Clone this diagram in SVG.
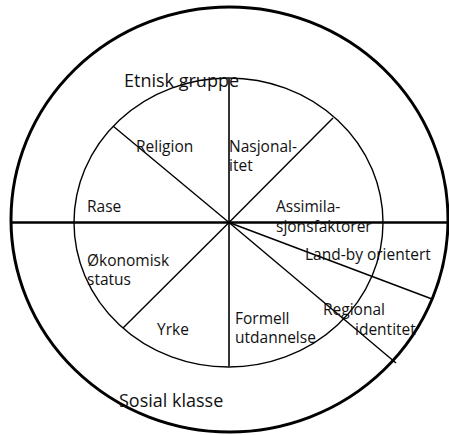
<svg xmlns="http://www.w3.org/2000/svg" width="449" height="435" viewBox="0 0 449 435">
<style>
text{font-family:"Open Sans","Noto Sans","Liberation Sans",sans-serif;fill:#111;}
.lbl{font-size:15.5px;}
.big{font-size:18px;}
.outer{fill:none;stroke:#000;stroke-width:3;}
.inner{fill:none;stroke:#000;stroke-width:1.4;}
.axis{stroke:#000;stroke-width:2.6;}
.vert{stroke:#333;stroke-width:2;}
.diag{stroke:#000;stroke-width:1.4;}
</style>
<rect width="449" height="435" fill="#fff"/>
<g id="outer-circle"><ellipse class="outer" cx="229.5" cy="219.5" rx="218.5" ry="212.5"/></g>
<g id="inner-circle"><ellipse class="inner" cx="228.5" cy="222.5" rx="154.5" ry="144.5"/></g>
<g id="connectors">
<line class="axis" x1="10" y1="222.5" x2="449" y2="222.5"/>
<line class="vert" x1="229" y1="78" x2="229" y2="222.5"/>
<line class="vert" x1="229" y1="222.5" x2="229" y2="367"/>
<line class="diag" x1="229" y1="222.5" x2="113" y2="126"/>
<line class="diag" x1="229" y1="222.5" x2="333" y2="118"/>
<line class="diag" x1="229" y1="222.5" x2="123" y2="328"/>
<line class="diag" x1="229" y1="222.5" x2="396" y2="363"/>
<line class="diag" x1="229" y1="222.5" x2="432" y2="299"/>
</g>
<g id="etnisk-gruppe"><text class="big" x="124" y="87">Etnisk gruppe</text></g>
<g id="sosial-klasse"><text class="big" x="119" y="407">Sosial klasse</text></g>
<g id="religion"><text class="lbl" x="136" y="152">Religion</text></g>
<g id="nasjonalitet"><text class="lbl" x="229" y="152">Nasjonal-</text><text class="lbl" x="229" y="171">itet</text></g>
<g id="rase"><text class="lbl" x="87" y="212">Rase</text></g>
<g id="assimilasjonsfaktorer"><text class="lbl" x="276" y="212">Assimila-</text><text class="lbl" x="276" y="232">sjonsfaktorer</text></g>
<g id="land-by"><text class="lbl" x="305" y="260">Land-by orientert</text></g>
<g id="okonomisk-status"><text class="lbl" x="87" y="266">Økonomisk</text><text class="lbl" x="87" y="285">status</text></g>
<g id="yrke"><text class="lbl" x="157" y="335">Yrke</text></g>
<g id="formell-utdannelse"><text class="lbl" x="235" y="324">Formell</text><text class="lbl" x="235" y="343">utdannelse</text></g>
<g id="regional-identitet"><text class="lbl" x="323" y="315">Regional</text><text class="lbl" x="355" y="335">identitet</text></g>
</svg>
